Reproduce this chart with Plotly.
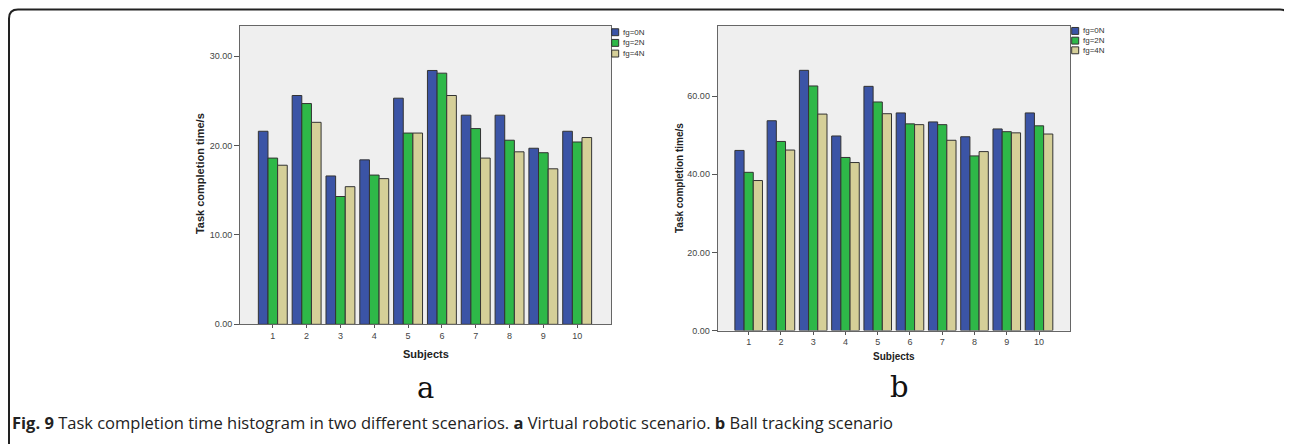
import plotly.graph_objects as go

# The page body adds an 8px margin, so the figure is drawn 8px to the right/down.
OX, OY = 8, 8
W, H = 1284, 436

subjects = list(range(1, 11))
series_names = ["fg=0N", "fg=2N", "fg=4N"]
colors = ["#3b54a6", "#2eb848", "#d5cf98"]

# Panel a: Virtual robotic scenario
a_fg0 = [21.6, 25.6, 16.6, 18.4, 25.3, 28.4, 23.4, 23.4, 19.7, 21.6]
a_fg2 = [18.6, 24.7, 14.3, 16.7, 21.4, 28.1, 21.9, 20.6, 19.2, 20.4]
a_fg4 = [17.8, 22.6, 15.4, 16.3, 21.4, 25.6, 18.6, 19.3, 17.4, 20.9]
# Panel b: Ball tracking scenario
b_fg0 = [46.1, 53.7, 66.6, 49.8, 62.5, 55.7, 53.4, 49.6, 51.6, 55.7]
b_fg2 = [40.5, 48.4, 62.6, 44.3, 58.5, 52.9, 52.7, 44.7, 50.9, 52.4]
b_fg4 = [38.4, 46.2, 55.4, 43.0, 55.5, 52.7, 48.7, 45.8, 50.6, 50.3]

a_yticks = [0, 10, 20, 30]
b_yticks = [0, 20, 40, 60]

y_title = "Task completion time/s"
x_title = "Subjects"
caption_bold = "Fig. 9"
caption_text = (" Task completion time histogram in two different scenarios. <b>a</b> Virtual robotic "
                "scenario. <b>b</b> Ball tracking scenario")


def px(x):
    return (x - OX) / W


def py(y):
    return 1 - (y - OY) / H


fig = go.Figure()
for name, col, vals in zip(series_names, colors, [a_fg0, a_fg2, a_fg4]):
    fig.add_trace(go.Bar(x=subjects, y=vals, name=name, marker_color=col,
                         marker_line=dict(color="#333333", width=1),
                         xaxis="x", yaxis="y", showlegend=False))
for name, col, vals in zip(series_names, colors, [b_fg0, b_fg2, b_fg4]):
    fig.add_trace(go.Bar(x=subjects, y=vals, name=name, marker_color=col,
                         marker_line=dict(color="#333333", width=1),
                         xaxis="x2", yaxis="y2", showlegend=False))

axis_common = dict(showgrid=False, zeroline=False, showline=True, mirror=True,
                   linecolor="#666666", linewidth=1, ticks="outside", tickcolor="#555555",
                   tickfont=dict(family="Liberation Sans, Arial", size=9, color="#444444"))

fig.update_layout(
    width=W, height=H,
    margin=dict(l=0, r=0, t=0, b=0),
    paper_bgcolor="white",
    plot_bgcolor="#efefef",
    barmode="group",
    bargap=0.145,
    bargroupgap=0,
    showlegend=False,
    xaxis=dict(domain=[px(240), px(611)], range=[0.03, 11.0], anchor="y",
               tickvals=subjects, ticklen=3, **axis_common),
    yaxis=dict(domain=[py(328), py(26)], range=[0, 33.4], anchor="x",
               tickvals=a_yticks, tickformat=".2f", ticklen=5, **axis_common),
    xaxis2=dict(domain=[px(717.7), px(1070)], range=[0.04, 10.96], anchor="y2",
                tickvals=subjects, ticklen=3, **axis_common),
    yaxis2=dict(domain=[py(334.3), py(26)], range=[0, 78], anchor="x2",
                tickvals=b_yticks, tickformat=".2f", ticklen=5, **axis_common),
)

annotations = []
shapes = []

# axis titles
annotations.append(dict(text="<b>" + y_title + "</b>", x=px(200), y=py(175), xref="paper", yref="paper",
                        textangle=-90, showarrow=False, xanchor="center", yanchor="middle",
                        font=dict(family="Liberation Sans, Arial", size=11, color="#222222")))
annotations.append(dict(text="<b>" + y_title + "</b>", x=px(679), y=py(180), xref="paper", yref="paper",
                        textangle=-90, showarrow=False, xanchor="center", yanchor="middle",
                        font=dict(family="Liberation Sans, Arial", size=10, color="#222222")))
annotations.append(dict(text="<b>" + x_title + "</b>", x=px(425.7), y=py(358), xref="paper", yref="paper",
                        showarrow=False, xanchor="center", yanchor="middle",
                        font=dict(family="Liberation Sans, Arial", size=11, color="#222222")))
annotations.append(dict(text="<b>" + x_title + "</b>", x=px(894), y=py(361), xref="paper", yref="paper",
                        showarrow=False, xanchor="center", yanchor="middle",
                        font=dict(family="Liberation Sans, Arial", size=10, color="#222222")))

# panel letters
annotations.append(dict(text="a", x=px(425), y=py(392), xref="paper", yref="paper", showarrow=False,
                        xanchor="center", yanchor="middle",
                        font=dict(family="DejaVu Serif", size=29, color="#111111")))
annotations.append(dict(text="b", x=px(899), y=py(391), xref="paper", yref="paper", showarrow=False,
                        xanchor="center", yanchor="middle",
                        font=dict(family="DejaVu Serif", size=29, color="#111111")))

# manual legends
for (lx, ly0, dy) in [(611.7, 29, 10.8), (1071.7, 27.7, 9.8)]:
    for i, (name, col) in enumerate(zip(series_names, colors)):
        y0 = ly0 + i * dy
        shapes.append(dict(type="rect", xref="paper", yref="paper",
                           x0=px(lx), x1=px(lx + 7), y0=py(y0 + 7), y1=py(y0),
                           fillcolor=col, line=dict(color="#333333", width=1)))
        annotations.append(dict(text=name, x=px(lx + 9), y=py(y0 + 3.5), xref="paper", yref="paper",
                                showarrow=False, xanchor="left", yanchor="middle",
                                font=dict(family="Liberation Sans, Arial", size=8, color="#333333")))

# caption
annotations.append(dict(text="<b>" + caption_bold + "</b>" + caption_text, x=px(10), y=py(427),
                        xref="paper", yref="paper", showarrow=False, xanchor="left", yanchor="middle",
                        font=dict(family="Open Sans", size=16.5, color="#222222")))

# outer rounded frame
r = 9
x0, y0, x1, y1 = 9, 9.5, 1289, 470
path = (f"M {px(x0)},{py(y1)} L {px(x0)},{py(y0 + r)} Q {px(x0)},{py(y0)} {px(x0 + r)},{py(y0)} "
        f"L {px(x1 - r)},{py(y0)} Q {px(x1)},{py(y0)} {px(x1)},{py(y0 + r)} L {px(x1)},{py(y1)}")
shapes.append(dict(type="path", path=path, xref="paper", yref="paper",
                   line=dict(color="#222222", width=2)))

fig.update_layout(annotations=annotations, shapes=shapes)
fig.write_html("out.html")
